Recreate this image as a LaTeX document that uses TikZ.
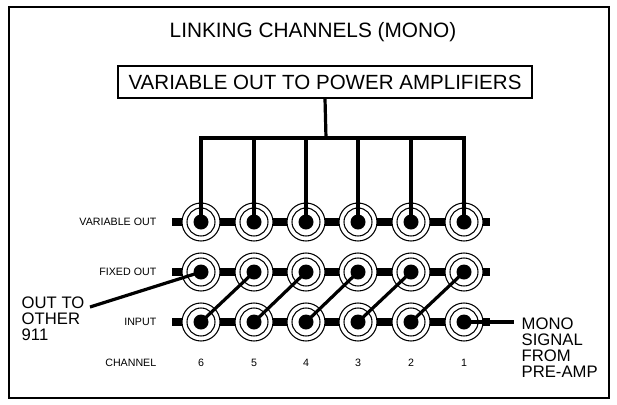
\documentclass[tikz,border=0pt]{standalone}
\usepackage{fontspec}
\setmainfont{Liberation Sans}
\tikzset{
	jackring/.style={draw, line width=0.8pt, fill=white},
	jackpin/.style={fill=black},
	wire/.style={line width=2.4pt},
	rowlabel/.style={anchor=east, font=\fontsize{8}{9}\selectfont},
	sidelabel/.style={align=left, font=\fontsize{12.5}{12}\selectfont}
}
\begin{document}
\begin{tikzpicture}[x=0.75pt,y=0.75pt,yscale=-1,xscale=1]
\useasboundingbox (0,0) rectangle (617,404);
\draw[line width=0.8pt] (9,7) rectangle (609,398);

\node (title) at (313,32) {\fontsize{15.6}{17}\selectfont LINKING CHANNELS (MONO)};
\node[draw, line width=1pt, minimum width=310.5pt, minimum height=24pt] (amp) at (325,82)
	{\fontsize{15.4}{17}\selectfont VARIABLE OUT TO POWER AMPLIFIERS};

% bus bars behind the jacks
\foreach \y in {222,272,322}
	\fill (172,\y-4) rectangle (490,\y+4);

% jacks
\foreach \x [count=\i] in {201,254,306,358,411,464} {
	\foreach \r/\y in {v/222,f/272,n/322} {
		\draw[jackring] (\x,\y) circle (19);
		\draw[line width=0.8pt] (\x,\y) circle (14);
		\coordinate (\r\i) at (\x,\y);
		\fill[jackpin] (\x,\y) circle (7.5);
	}
}

% variable out tree
\coordinate (hub) at (326,138);
\draw[wire] (amp.south) -- (hub);
\draw[wire] (v1) -- (v1 |- hub) -- (v6 |- hub) -- (v6);
\foreach \i in {2,...,5}
	\draw[wire] (v\i |- hub) -- (v\i);

% input to next fixed out
\foreach \i/\j in {1/2,2/3,3/4,4/5,5/6}
	\draw[wire] (n\i) -- (f\j);

% row labels
\node[rowlabel] (lv) at (161,222) {VARIABLE OUT};
\node[rowlabel] (lf) at (161,272) {FIXED OUT};
\node[rowlabel] (ln) at (161,322) {INPUT};
\node[rowlabel] (lc) at (161,363) {CHANNEL};
\foreach \x [count=\i] in {201,254,306,358,411,464} {
	\pgfmathtruncatemacro\ch{7-\i}
	\node[font=\fontsize{8}{9}\selectfont] (c\i) at (\x,363) {\ch};
}

% out to other 911
\node[sidelabel, anchor=north west] (other) at (17,292) {OUT TO\\OTHER\\911};
\coordinate (otherend) at (90,307);
\draw[wire] (otherend) -- (f1);

% mono signal
\node[sidelabel, anchor=north west] (mono) at (517,313) {MONO\\SIGNAL\\FROM\\PRE-AMP};
\coordinate (monoend) at (514,322);
\draw[wire] (n6) -- (monoend);
\end{tikzpicture}
\end{document}
